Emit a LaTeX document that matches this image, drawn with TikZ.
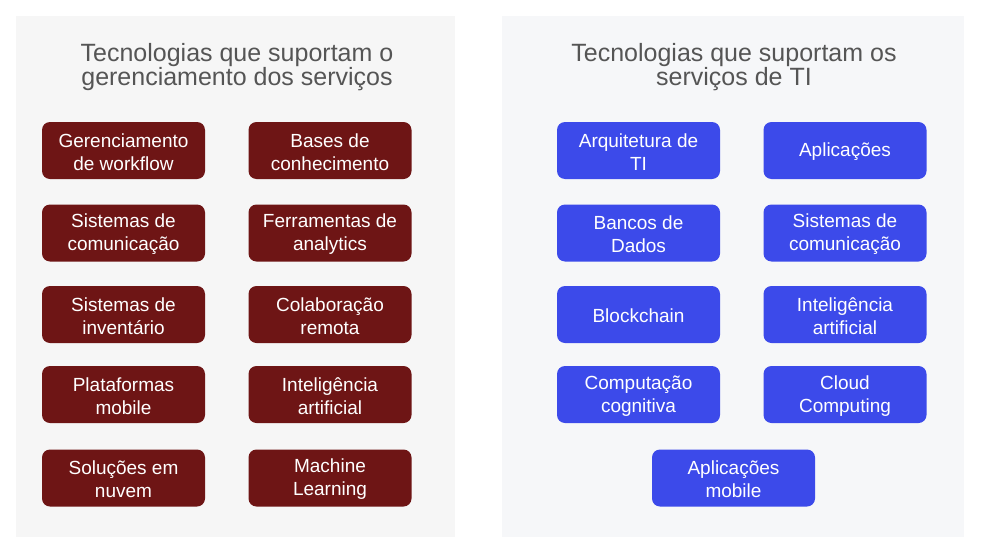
\documentclass[tikz,border=0pt]{standalone}
\usepackage{fontspec}
\setmainfont{Liberation Sans}
\definecolor{panelL}{HTML}{F6F6F6}
\definecolor{panelR}{HTML}{F6F7F9}
\definecolor{darkred}{HTML}{6E1515}
\definecolor{brightblue}{HTML}{3C4AEA}
\definecolor{titlegray}{HTML}{555555}
\tikzset{
  heading/.style={text=titlegray, align=center, font=\fontsize{25}{23.5}\selectfont},
  techbox/.style={rounded corners=8pt, minimum width=163pt, minimum height=57pt, inner sep=0pt},
  redbox/.style={techbox, fill=darkred},
  bluebox/.style={techbox, fill=brightblue},
  boxtext/.style={text=white, align=center, inner sep=0pt, font=\fontsize{19}{23}\selectfont},
}
\newcommand\tbox[4]{\node[#1] (#2) at #3 {}; \node[boxtext] (#2t) at ([yshift=-1.5pt]#2.center) {#4};}
\begin{document}
\begin{tikzpicture}[x=1pt,y=-1pt]
\useasboundingbox (0,0) rectangle (986,557);
\fill[white] (0,0) rectangle (986,557);
\fill[panelL] (16,16) rectangle (455,537);
\fill[panelR] (502,16) rectangle (964,537);

\node[heading] (tl) at (237,67) {Tecnologias que suportam o\\gerenciamento dos serviços};
\node[heading] (tr) at (734,67) {Tecnologias que suportam os\\serviços de TI};

\tbox{redbox}{l1}{(123.5,150.5)}{Gerenciamento\\de workflow}
\tbox{redbox}{l2}{(330,150.5)}{Bases de\\conhecimento}
\tbox{redbox}{l3}{(123.5,233)}{Sistemas de\\comunicação}
\tbox{redbox}{l4}{(330,233)}{Ferramentas de\\analytics}
\tbox{redbox}{l5}{(123.5,314.5)}{Sistemas de\\inventário}
\tbox{redbox}{l6}{(330,314.5)}{Colaboração\\remota}
\tbox{redbox}{l7}{(123.5,394.5)}{Plataformas\\mobile}
\tbox{redbox}{l8}{(330,394.5)}{Inteligência\\artificial}
\tbox{redbox}{l9}{(123.5,478)}{Soluções em\\nuvem}
\tbox{redbox}{l10}{(330,478)}{Machine\\Learning}

\tbox{bluebox}{r1}{(638.5,150.5)}{Arquitetura de\\TI}
\tbox{bluebox}{r2}{(845,150.5)}{Aplicações}
\tbox{bluebox}{r3}{(638.5,233)}{Bancos de\\Dados}
\tbox{bluebox}{r4}{(845,233)}{Sistemas de\\comunicação}
\tbox{bluebox}{r5}{(638.5,314.5)}{Blockchain}
\tbox{bluebox}{r6}{(845,314.5)}{Inteligência\\artificial}
\tbox{bluebox}{r7}{(638.5,394.5)}{Computação\\cognitiva}
\tbox{bluebox}{r8}{(845,394.5)}{Cloud\\Computing}
\tbox{bluebox}{r9}{(733.5,478)}{Aplicações\\mobile}
\end{tikzpicture}
\end{document}
